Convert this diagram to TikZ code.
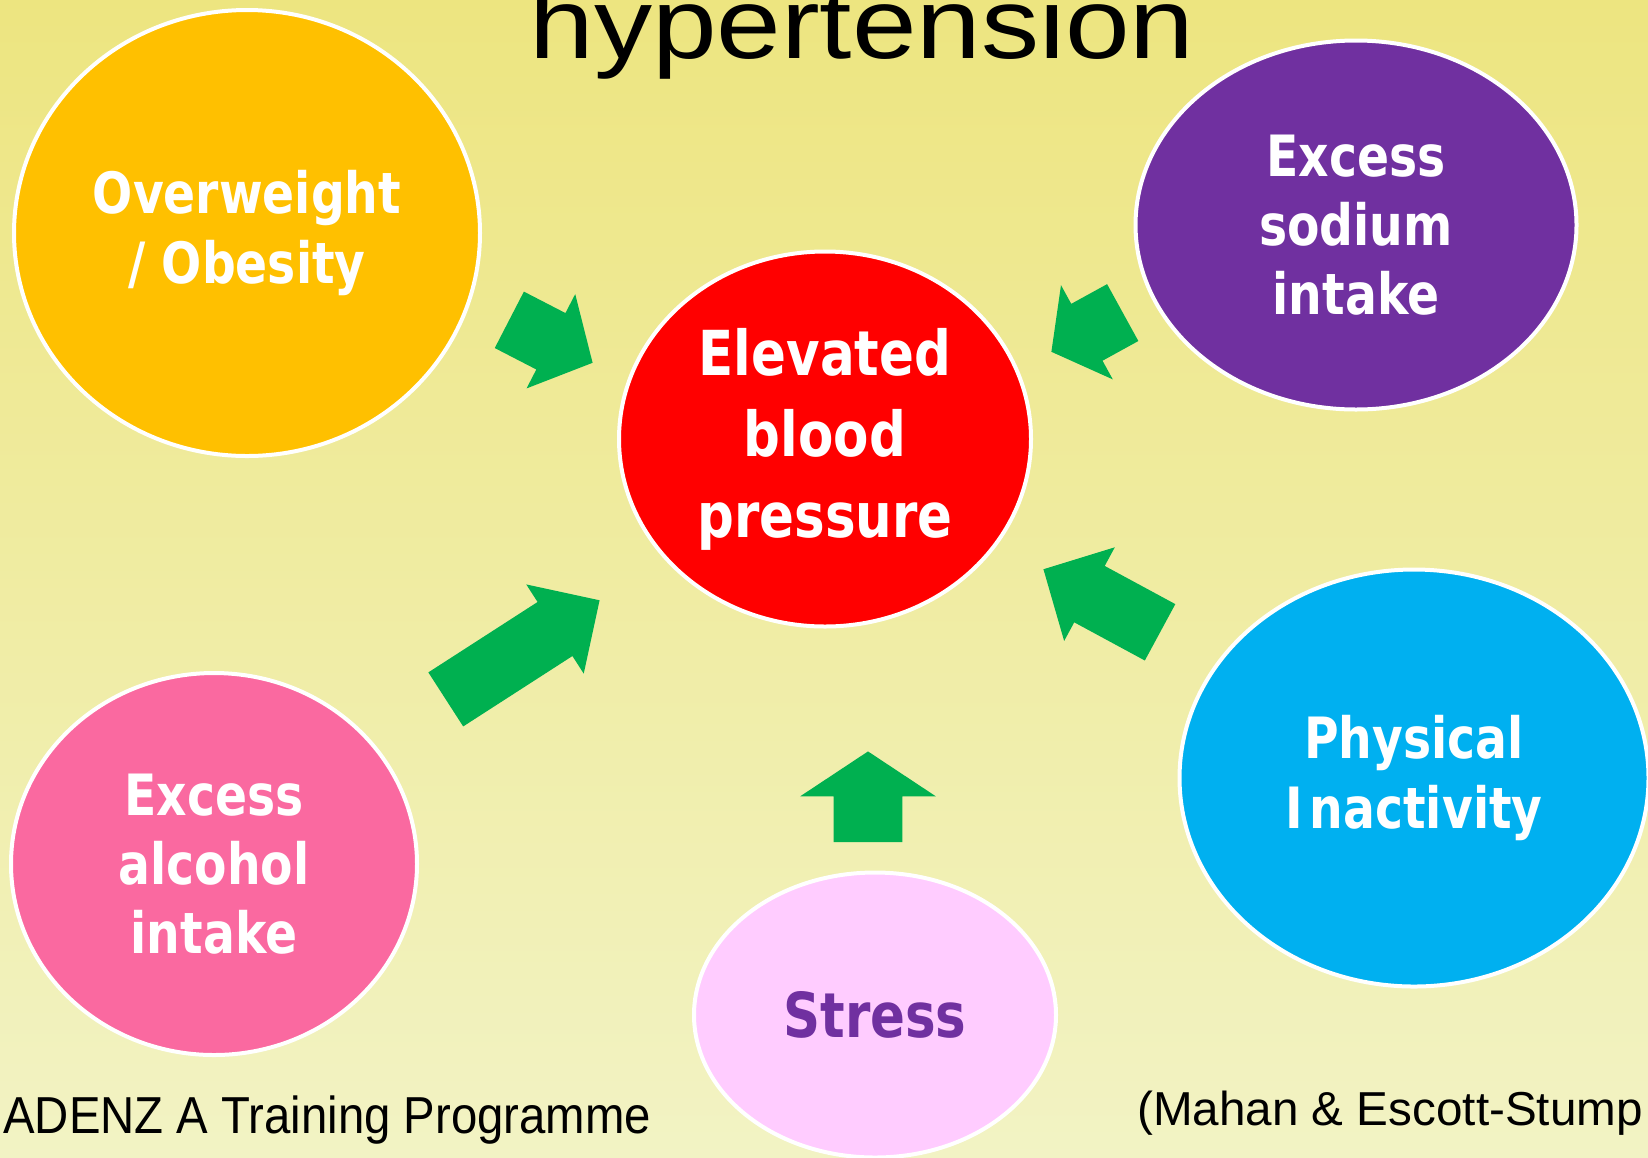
\documentclass[tikz,border=0pt]{standalone}
\usepackage{fontspec}
\usetikzlibrary{shapes.geometric, shapes.arrows}
\setmainfont{Liberation Sans}
\newfontfamily\labelfont{DejaVu Sans}[FakeStretch=0.83]
\newfontfamily\titlefont{Liberation Sans}[FakeStretch=1.16]
\newfontfamily\footfont{Liberation Sans}[FakeStretch=0.91]
\newlength{\unitpx}
\setlength{\unitpx}{0.02cm}
\definecolor{bgTop}{RGB}{237, 229, 128}
\definecolor{bgMid}{RGB}{240, 237, 150}
\definecolor{bgBottom}{RGB}{242, 243, 196}
\definecolor{obesityOrange}{RGB}{255, 192, 0}
\definecolor{sodiumPurple}{RGB}{112, 48, 160}
\definecolor{pressureRed}{RGB}{255, 0, 0}
\definecolor{alcoholPink}{RGB}{250, 105, 160}
\definecolor{stressPink}{RGB}{255, 204, 255}
\definecolor{inactiveCyan}{RGB}{0, 176, 240}
\definecolor{arrowGreen}{RGB}{0, 176, 80}
\tikzset{
    % Base style for all bubbles
    factor/.style={
        ellipse,
        draw=white,
        line width=4\unitpx,
        inner sep=0pt,
        align=center,
        text=white,
        font=\labelfont\bfseries\fontsize{32.4pt}{39.3pt}\selectfont
    },
    % Specific bubbles
    obesityStage/.style={factor, fill=obesityOrange, minimum width=466\unitpx, minimum height=446\unitpx},
    sodiumStage/.style={factor, fill=sodiumPurple, minimum width=441\unitpx, minimum height=369\unitpx},
    pressureStage/.style={factor, fill=pressureRed, minimum width=412\unitpx, minimum height=375\unitpx,
        font=\labelfont\bfseries\fontsize{35.3pt}{46.1pt}\selectfont},
    alcoholStage/.style={factor, fill=alcoholPink, minimum width=406\unitpx, minimum height=382\unitpx},
    stressStage/.style={factor, fill=stressPink, minimum width=362\unitpx, minimum height=285\unitpx,
        text=sodiumPurple, font=\labelfont\bfseries\fontsize{35.3pt}{46.1pt}\selectfont},
    inactiveStage/.style={factor, fill=inactiveCyan, minimum width=469\unitpx, minimum height=417\unitpx},
    % Block arrows: shaft from inner ysep, head from minimum width
    pushArrow/.style={single arrow, fill=arrowGreen, draw=none, inner xsep=0pt, inner ysep=#1, anchor=tip},
    pushArrow/.default=31.7\unitpx,
    footNote/.style={anchor=base west, inner sep=0pt, text=black}
}

\begin{document}
\begin{tikzpicture}[x=0.02cm, y=-0.02cm]

    % --- Background ---
    \useasboundingbox (0,0) rectangle (1648,1157);
    \shade [top color=bgTop, middle color=bgMid, bottom color=bgBottom] (0,0) rectangle (1648,1157);

    % --- Title ---
    \node (title) [anchor=base, inner sep=0pt, font=\titlefont\fontsize{57pt}{57pt}\selectfont] at (862,58) {hypertension};

    % --- Bubbles ---
    \node (pressure) [pressureStage] at (825,439) {Elevated\\blood\\pressure};
    \node (obesity) [obesityStage] at (247,233) {Overweight\\/ Obesity};
    \node (sodium) [sodiumStage] at (1356,225) {Excess\\sodium\\intake};
    \node (alcohol) [alcoholStage] at (214,864) {Excess\\alcohol\\intake};
    \node (stress) [stressStage] at (875,1015) {Stress};
    \node (inactive) [inactiveStage] at (1414,778) {Physical\\I\kern0.12em nactivity};

    % --- Arrows into the centre ---
    \node (arrObesity) [pushArrow=31.4\unitpx, rotate=-27.3, minimum height=93.7\unitpx, minimum width=105.4\unitpx,
        single arrow head extend=21.3\unitpx, single arrow tip angle=97] at (593,363) {};
    \node (arrSodium) [pushArrow=32.1\unitpx, rotate=208.8, minimum height=81.4\unitpx, minimum width=106.7\unitpx,
        single arrow head extend=21.3\unitpx, single arrow tip angle=106] at (1051,352) {};
    \node (arrAlcohol) [pushArrow=31.8\unitpx, rotate=32.8, minimum height=183\unitpx, minimum width=105.4\unitpx,
        single arrow head extend=20.9\unitpx, single arrow tip angle=90] at (600,600) {};
    \node (arrInactive) [pushArrow=31.7\unitpx, rotate=151.6, minimum height=132.6\unitpx, minimum width=105.9\unitpx,
        single arrow head extend=21.2\unitpx, single arrow tip angle=91] at (1043,569) {};
    \node (arrStress) [pushArrow=34\unitpx, rotate=90, minimum height=90.7\unitpx, minimum width=134.7\unitpx,
        single arrow head extend=33.4\unitpx, single arrow tip angle=113] at (868,751) {};

    % --- Footer ---
    \node (credit) [footNote, font=\footfont\fontsize{29.6pt}{30pt}\selectfont] at (3,1133) {ADENZ\kern0.25em A Training Programme};
    \node (source) [footNote, font=\fontsize{27.1pt}{28pt}\selectfont] at (1137,1125) {(Mahan \& Escott-Stump};

\end{tikzpicture}
\end{document}
